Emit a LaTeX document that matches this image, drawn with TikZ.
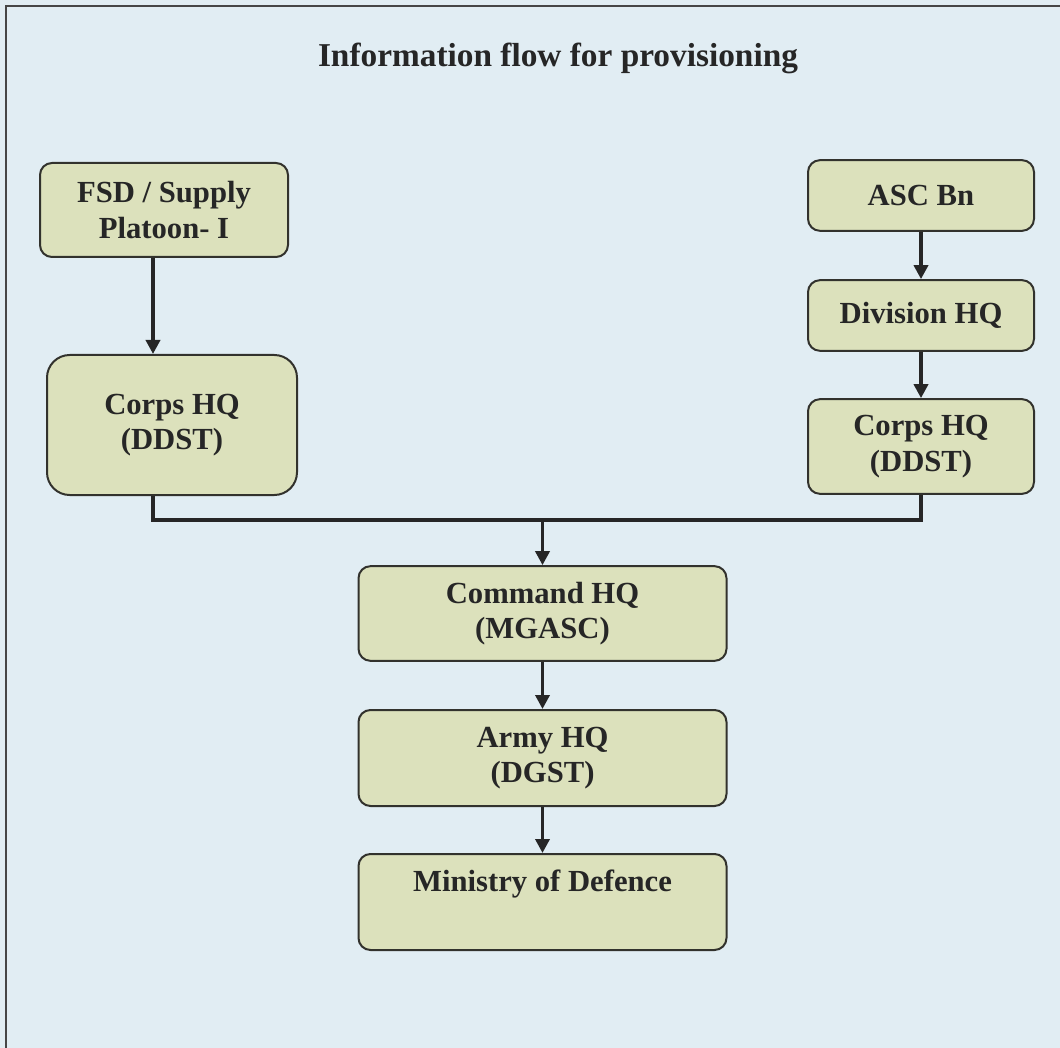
\documentclass[tikz,border=0pt]{standalone}
\usepackage{fontspec}
\setmainfont{Liberation Serif}
\usetikzlibrary{arrows.meta,calc}
\definecolor{bgblue}{RGB}{225,237,243}
\definecolor{boxfill}{RGB}{220,225,188}
\definecolor{boxline}{RGB}{50,50,45}
\definecolor{frameline}{RGB}{70,70,70}
\tikzset{
  stagebox/.style={draw=boxline, line width=1.5pt, fill=boxfill, rounded corners=9pt,
    align=center, inner sep=0pt, font=\fontsize{23}{26.5}\selectfont\bfseries, text=black!85},
  flowline/.style={draw=black!85, line width=2.8pt},
  flowarrow/.style={flowline, -{Triangle[width=10.5pt,length=10.5pt]}},
}
\begin{document}
\begin{tikzpicture}[x=0.75pt,y=-0.75pt]
\useasboundingbox (0,0) rectangle (1060,1048);
\fill[bgblue] (0,0) rectangle (1060,1048);
\draw[frameline, line width=1.6pt] (6,1048) -- (6,6) -- (1060,6);

\node[font=\fontsize{25}{28}\selectfont\bfseries, text=black!85] (title) at (558,58) {Information flow for provisioning};

\node[stagebox, minimum width=186pt, minimum height=70.5pt] (fsd) at (164,210) {FSD / Supply\\Platoon- I};
\node[stagebox, minimum width=187.5pt, minimum height=105pt, rounded corners=17pt] (corpsL) at (172,425) {Corps HQ\\(DDST)};

\node[stagebox, minimum width=169.5pt, minimum height=53pt] (asc) at (921,195.5) {ASC Bn};
\node[stagebox, minimum width=169.5pt, minimum height=53pt] (div) at (921,315.5) {Division HQ};
\node[stagebox, minimum width=169.5pt, minimum height=71pt] (corpsR) at (921,446.5) {Corps HQ\\(DDST)};

\node[stagebox, minimum width=276pt, minimum height=71pt] (cmd) at (542.5,613.5) {Command HQ\\(MGASC)};
\node[stagebox, minimum width=276pt, minimum height=72pt] (army) at (542.5,758) {Army HQ\\(DGST)};
\node[stagebox, minimum width=276pt, minimum height=72pt] (mod) at (542.5,902) {Ministry of Defence\\[-3pt]\strut};

\coordinate (lx) at (153,0);
\coordinate (j) at (542.5,520);

\draw[flowarrow] (fsd.south -| lx) -- (corpsL.north -| lx);
\draw[flowarrow] (asc) -- (div);
\draw[flowarrow] (div) -- (corpsR);
\draw[flowline] (corpsL.south -| lx) |- (j) -| (corpsR.south);
\draw[flowarrow] (j) -- (cmd.north);
\draw[flowarrow] (cmd) -- (army);
\draw[flowarrow] (army) -- (mod);
\end{tikzpicture}
\end{document}
